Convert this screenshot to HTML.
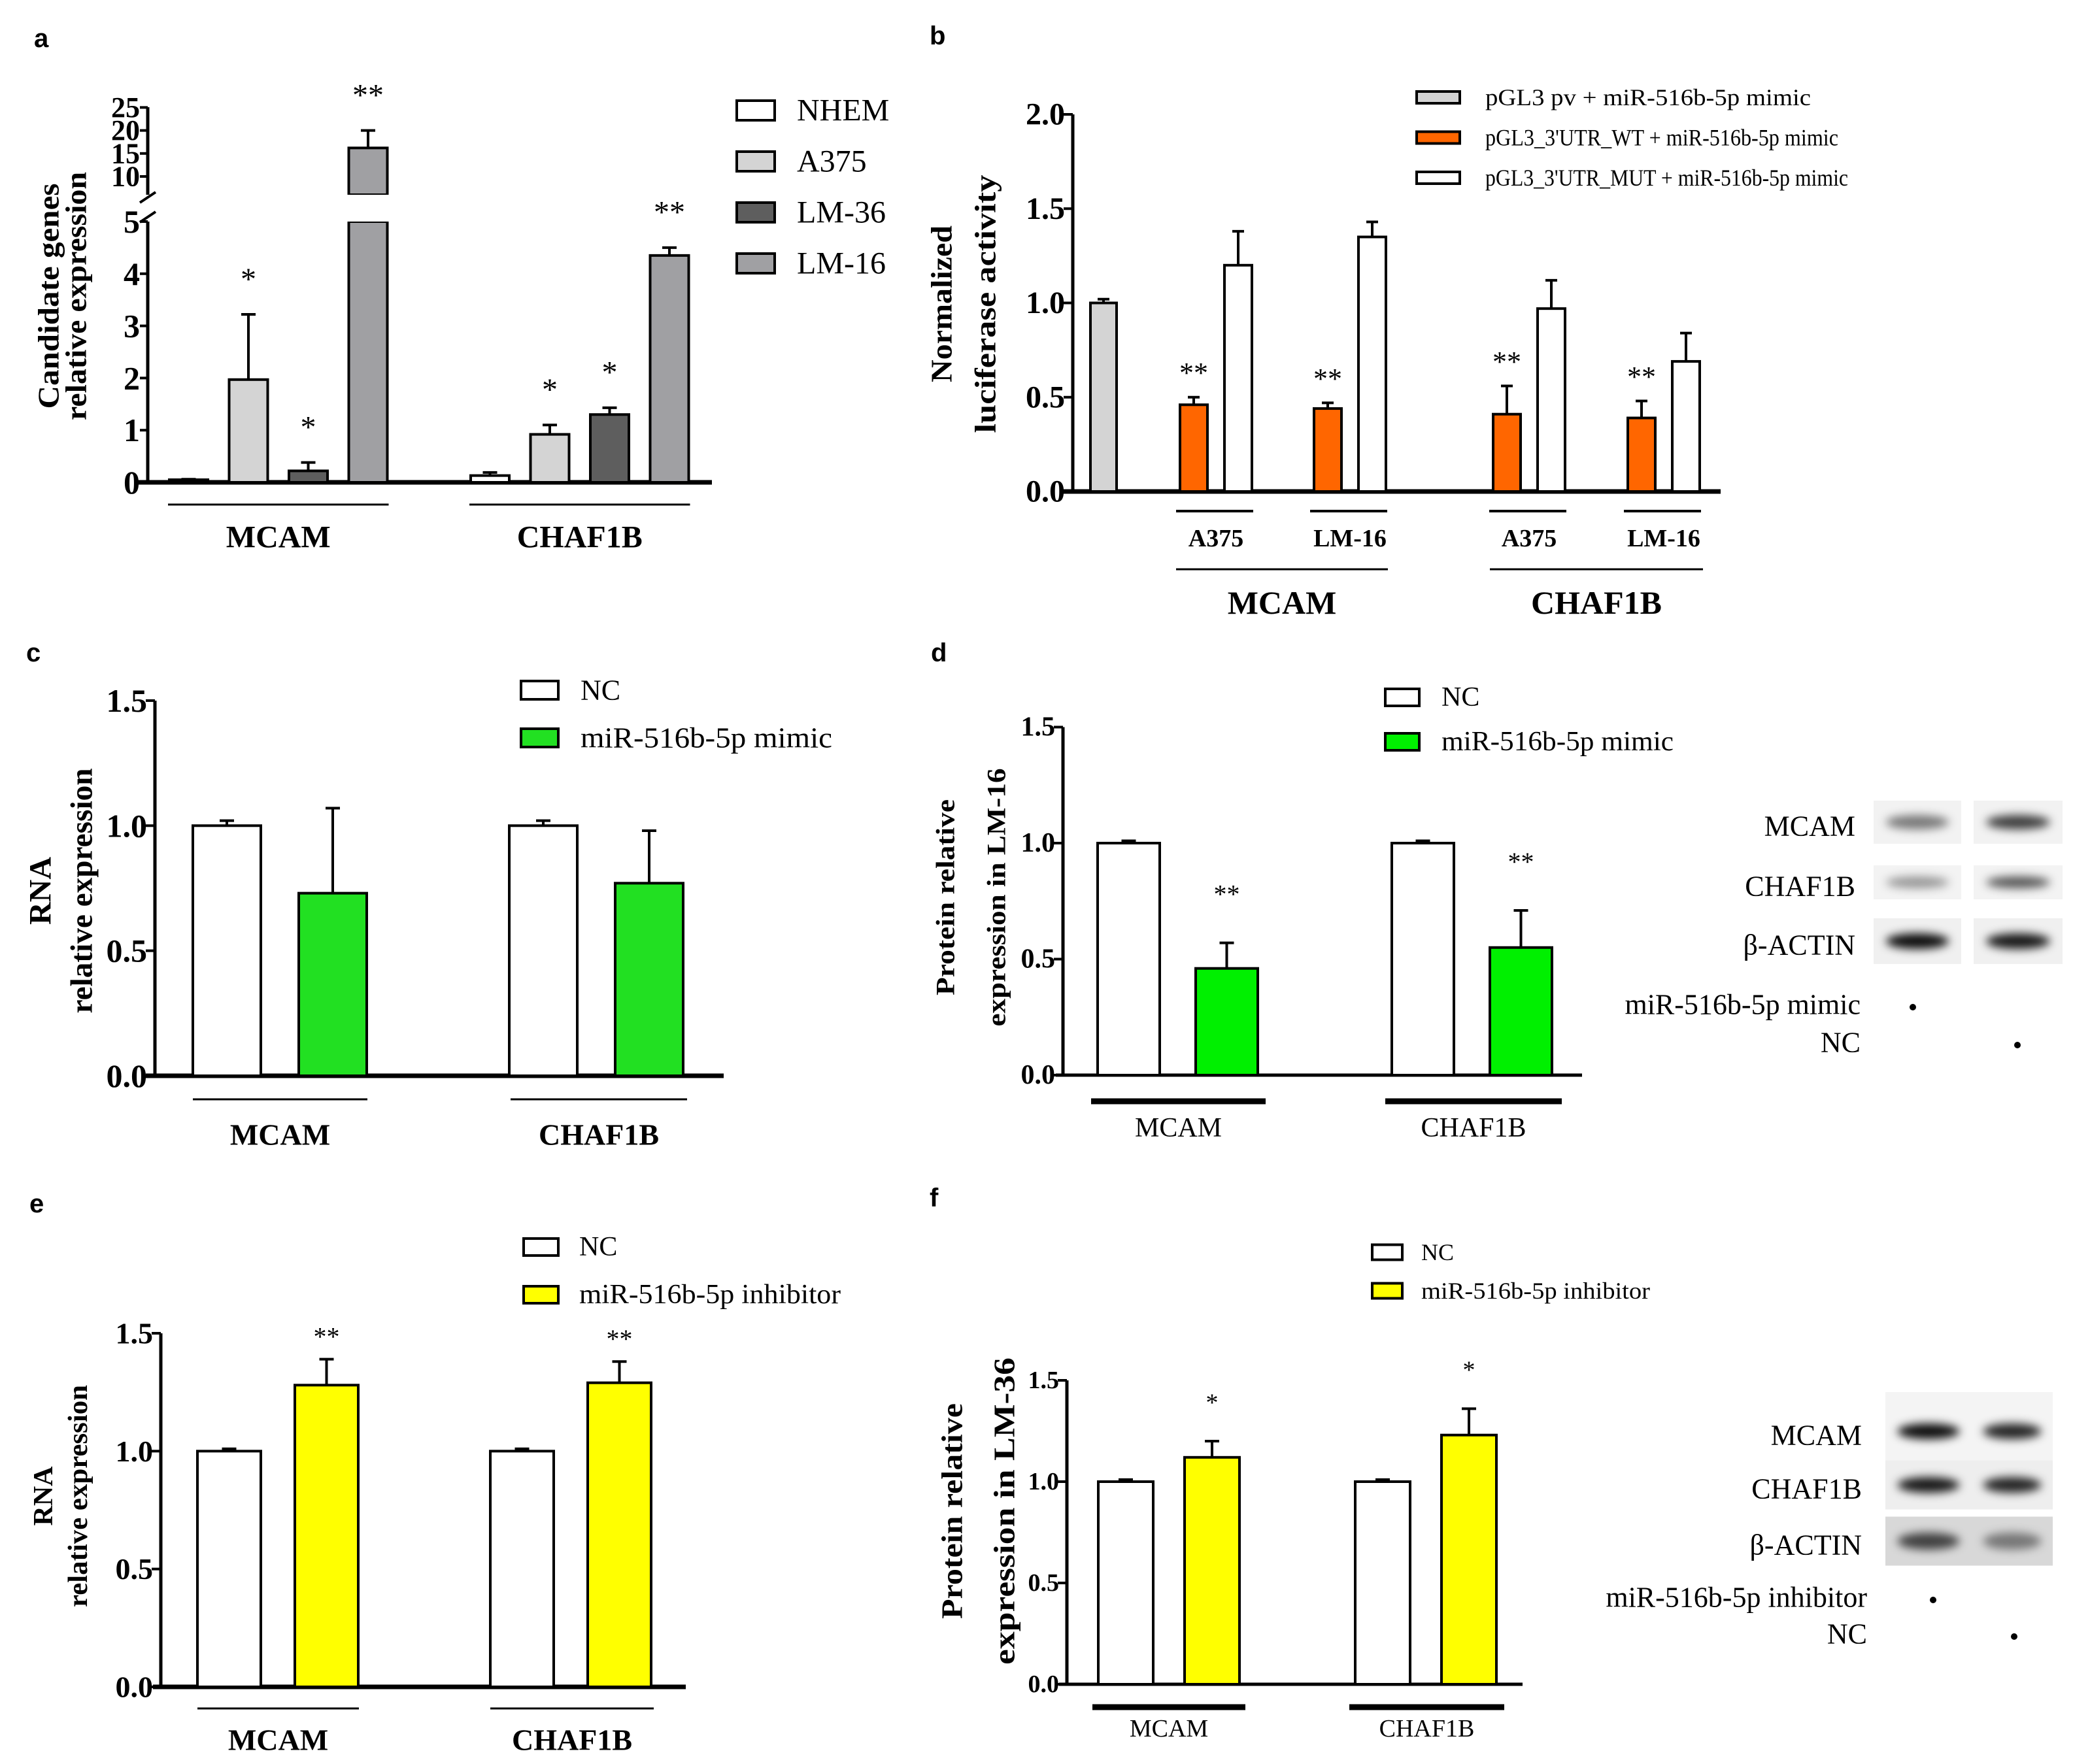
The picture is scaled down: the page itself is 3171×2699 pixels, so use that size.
<!DOCTYPE html>
<html><head><meta charset="utf-8"><style>
html,body{margin:0;padding:0;background:#fff}
svg{display:block}
text{font-family:"Liberation Serif",serif}
.b{font-weight:bold}
.sans{font-family:"Liberation Sans",sans-serif;font-weight:bold}
</style></head><body>
<svg id="fig" xmlns="http://www.w3.org/2000/svg" width="3171" height="2699" viewBox="0 0 3171 2699">
<defs>
<filter id="blur" x="-30%" y="-80%" width="160%" height="260%"><feGaussianBlur stdDeviation="7"/></filter>
</defs>
</svg>
<script>
// ---------- DATA ----------
// panel a
const aGenes = ["MCAM","CHAF1B"];
const aSeries = ["NHEM","A375","LM-36","LM-16"];
const aColors = ["#ffffff","#d4d4d4","#5e5e5e","#a0a0a3"];
const aMCAM = [0.05, 1.97, 0.22, 16.2];
const aMCAMErr = [0.06, 3.22, 0.38, 20];
const aCHAF = [0.13, 0.92, 1.30, 4.35];
const aCHAFErr = [0.19, 1.10, 1.43, 4.50];
const aMCAMSig = ["", "*", "*", "**"];
const aCHAFSig = ["", "*", "*", "**"];
const aTicksLow = [0,1,2,3,4,5];
const aTicksHigh = [10,15,20,25];
// panel b
const bSeries = ["pGL3 pv + miR-516b-5p mimic","pGL3_3'UTR_WT + miR-516b-5p mimic","pGL3_3'UTR_MUT + miR-516b-5p mimic"];
const bCtrl = 1.00, bCtrlErr = 1.02;
const bCells = ["A375","LM-16","A375","LM-16"];
const bWT = [0.46, 0.44, 0.41, 0.39];
const bWTErr = [0.50, 0.47, 0.56, 0.48];
const bMUT = [1.20, 1.35, 0.97, 0.69];
const bMUTErr = [1.38, 1.43, 1.12, 0.84];
const bSig = ["**","**","**","**"];
const bTicks = [0,0.5,1.0,1.5,2.0];
const bTickLabels = ["0.0","0.5","1.0","1.5","2.0"];
// panel c
const cNC = [1.00, 1.00], cNCErr = [1.02, 1.02];
const cMim = [0.73, 0.77], cMimErr = [1.07, 0.98];
// panel d
const dNC = [1.00, 1.00], dNCErr = [1.01, 1.01];
const dMim = [0.46, 0.55], dMimErr = [0.57, 0.71];
const dSig = ["**","**"];
// panel e
const eNC = [1.00, 1.00], eNCErr = [1.01, 1.01];
const eInh = [1.28, 1.29], eInhErr = [1.39, 1.38];
const eSig = ["**","**"];
// panel f
const fNC = [1.00, 1.00], fNCErr = [1.01, 1.01];
const fInh = [1.12, 1.23], fInhErr = [1.20, 1.36];
const fSig = ["*","*"];
const lowTicks = [0,0.5,1.0,1.5];
const lowTickLabels = ["0.0","0.5","1.0","1.5"];
const genes = ["MCAM","CHAF1B"];

// ---------- HELPERS ----------
const NS="http://www.w3.org/2000/svg";
const svg=document.getElementById('fig');
function mk(tag,attrs,parent){const e=document.createElementNS(NS,tag);for(const k in attrs)e.setAttribute(k,attrs[k]);(parent||svg).appendChild(e);return e;}
function txt(s,attrs,parent){const e=mk('text',attrs,parent);e.textContent=s;return e;}
function line(x1,y1,x2,y2,w,parent){return mk('line',{x1,y1,x2,y2,stroke:'#000','stroke-width':w},parent);}
function bar(g,x,w,yv,y0,fill,name){
  const r=mk('rect',{x:x,y:yv,width:w,height:y0-yv,fill:fill,stroke:'#000','stroke-width':4},g);
  
  
  return r;
}
function err(g,cx,yTop,yErr,cap,name){
  const e=mk('path',{d:`M${cx},${yTop} V${yErr} M${cx-cap/2},${yErr} H${cx+cap/2}`,stroke:'#000','stroke-width':4,fill:'none'},g);
  
  
}
function panelLetter(s,x,y){const t=txt(s,{x,y,class:'sans','font-size':40});}
function yTitle(lines,xs,cy,size,len){
  lines.forEach((s,i)=>{const t=txt(s,{x:xs[i],y:cy,class:'b','font-size':size,'text-anchor':'middle',transform:`rotate(-90 ${xs[i]} ${cy})`,'dominant-baseline':'central'});
  if(len&&len[i]){t.setAttribute('textLength',len[i]);t.setAttribute('lengthAdjust','spacingAndGlyphs');}
  });
}
function yAxis(g,x,yTopPx,y0,ticks,labels,scale,fs,bold){
  line(x,yTopPx,x,y0+2,5,g);
  ticks.forEach((v,i)=>{const y=scale(v);line(x-14,y,x,y,4,g);
    const t=txt(labels[i],{x:x-12,y:y,'font-size':fs,'text-anchor':'end','dominant-baseline':'central',class:bold?'b':''},g);
    });
}
function legendEntry(x,y,w,h,fill,label,fs,tx,len){
  const g=mk('g',{});
  
  
  mk('rect',{x:x,y:y-h/2,width:w,height:h,fill:fill,stroke:'#000','stroke-width':4},g);
  const t=txt(label,{x:tx,y:y,'font-size':fs,'dominant-baseline':'central'},g);
  if(len){t.setAttribute('textLength',len);t.setAttribute('lengthAdjust','spacingAndGlyphs');}
}
function sig(s,x,y,fs,g){const t=txt(s,{x:x,y:y+fs*0.35,'font-size':fs,'text-anchor':'middle'},g);}
function groupLabel(s,x,y,fs,bold,g){const t=txt(s,{x:x,y:y,'font-size':fs,'text-anchor':'middle','dominant-baseline':'central',class:bold?'b':''},g);}

// ---------- PANEL A ----------
(function(){
  const g=mk('g',{});
  panelLetter('a',52,72);
  const ax=226, y0=738, ppu=79.8;
  const yLow=v=>y0-v*ppu;
  const yHigh=v=>270-(v-10)*7.04;
  const yv=v=>v<=5?yLow(v):yHigh(v);
  line(ax,164,ax,298,5,g); line(ax,339,ax,y0+2,5,g);
  mk('path',{d:`M${ax-12},${310} L${ax+12},${294} M${ax-12},${340} L${ax+12},${324}`,stroke:'#000','stroke-width':4,fill:'none'},g);
  aTicksLow.forEach(v=>{const y=yLow(v);line(ax-12,y,ax,y,4,g);const t=txt(String(v),{x:ax-12,y:y,'font-size':50,'text-anchor':'end','dominant-baseline':'central',class:'b'},g);});
  aTicksHigh.forEach(v=>{const y=yHigh(v);line(ax-12,y,ax,y,4,g);const t=txt(String(v),{x:ax-12,y:y,'font-size':44,'text-anchor':'end','dominant-baseline':'central',class:'b'},g);});
  line(210,y0,1089,y0,7,g);
  const vals=[aMCAM,aCHAF], errs=[aMCAMErr,aCHAFErr], sigs=[aMCAMSig,aCHAFSig];
  const start=[259,720], step=91.5, bw=59;
  vals.forEach((arr,gi)=>{
    arr.forEach((v,si)=>{
      const x=start[gi]+si*step, cx=x+bw/2;
      if(v>5){
        bar(g,x,bw,yHigh(v),298,aColors[si],'bar-'+aGenes[gi]+'-'+aSeries[si]+'-upper');
        bar(g,x,bw,yLow(5),y0,aColors[si],'bar-'+aGenes[gi]+'-'+aSeries[si]);
        mk('rect',{x:x-3,y:298,width:bw+6,height:41,fill:'#fff'},g);
      } else bar(g,x,bw,yLow(v),y0,aColors[si],'bar-'+aGenes[gi]+'-'+aSeries[si]);
      err(g,cx,yv(v),yv(errs[gi][si]),22,'error-bar');
      if(sigs[gi][si]){const top=yv(errs[gi][si]);sig(sigs[gi][si],cx,top-55,48,g);}
    });
    line(start[gi]-2,772,start[gi]+3*step+bw+2,772,3,g);
    groupLabel(aGenes[gi],start[gi]+(3*step+bw)/2,822,48,true,g);
  });
  yTitle(['Candidate genes','relative expression'],[74,116],453,46,[345,380]);
  aSeries.forEach((s,i)=>legendEntry(1127,169+i*78,58,30,aColors[i],s,48,1219));
})();

// ---------- PANEL B ----------
(function(){
  const g=mk('g',{});
  panelLetter('b',1422,68);
  const ax=1641,y0=752,ppu=288.5,sc=v=>y0-v*ppu;
  yAxis(g,ax,sc(2.0),y0,bTicks,bTickLabels,sc,48,true);
  line(1626,y0,2632,y0,7,g);
  bar(g,1668,40,sc(bCtrl),y0,'#d4d4d4','bar-pgl3-pv');
  err(g,1688,sc(bCtrl),sc(bCtrlErr),18,'error-bar');
  const pairStart=[1805,2010,2284,2490], bw=42, off=68;
  bWT.forEach((v,i)=>{
    const x=pairStart[i];
    bar(g,x,bw,sc(v),y0,'#ff6600','bar-wt-'+i);
    err(g,x+bw/2,sc(v),sc(bWTErr[i]),18,'error-bar');
    sig(bSig[i],x+bw/2,sc(bWTErr[i])-38,44,g);
    bar(g,x+off,bw,sc(bMUT[i]),y0,'#ffffff','bar-mut-'+i);
    err(g,x+off+bw/2,sc(bMUT[i]),sc(bMUTErr[i]),18,'error-bar');
    line(x-6,782,x+off+bw+2,782,4,g);
    groupLabel(bCells[i],x+(off+bw)/2,824,38,true,g);
  });
  [[1799,2123],[2279,2605]].forEach((r,i)=>{line(r[0],871,r[1],871,3,g);groupLabel(genes[i],(r[0]+r[1])/2,922,50,true,g);});
  yTitle(['Normalized','luciferase activity'],[1440,1507],465,46,[240,395]);
  const bc=['#d4d4d4','#ff6600','#ffffff'], bl=[498,540,555];
  bSeries.forEach((s,i)=>legendEntry(2167,149+i*61.5,66,18,bc[i],s,36,2272,bl[i]));
})();

function twoBar(o){
  const g=mk('g',{});
  const sc=v=>o.y0-v*o.ppu;
  yAxis(g,o.ax,sc(1.5),o.y0,lowTicks,lowTickLabels,sc,o.tfs,true);
  line(o.xs,o.y0,o.xe,o.y0,o.axw,g);
  for(let i=0;i<2;i++){
    const x1=o.start+i*o.goff, x2=x1+o.step;
    bar(g,x1,o.bw,sc(o.nc[i]),o.y0,'#ffffff','bar-'+genes[i]+'-nc');
    err(g,x1+o.bw/2,sc(o.nc[i]),sc(o.ncErr[i]),22,'error-bar');
    bar(g,x2,o.bw,sc(o.tr[i]),o.y0,o.color,'bar-'+genes[i]+'-treatment');
    err(g,x2+o.bw/2,sc(o.tr[i]),sc(o.trErr[i]),22,'error-bar');
    if(o.sig) sig(o.sig[i],x2+o.bw/2,sc(o.trErr[i])-o.sigOff,o.sfs,g);
    line(o.ul[i][0],o.uly,o.ul[i][1],o.uly,o.ulw,g);
    groupLabel(genes[i],(o.ul[i][0]+o.ul[i][1])/2,o.ly,o.lfs,o.lbold,g);
  }
  return g;
}

// ---------- PANEL C ----------
panelLetter('c',40,1012);
twoBar({name:'panel-c-chart',ax:237,y0:1646,ppu:382.7,tfs:50,xs:223,xe:1107,axw:7,start:295,goff:484,step:162,bw:104,
  nc:cNC,ncErr:cNCErr,tr:cMim,trErr:cMimErr,color:'#22e022',ul:[[295,562],[781,1051]],uly:1682,ulw:3,ly:1736,lfs:46,lbold:true});
yTitle(['RNA','relative expression'],[62,125],1363,48,[null,375]);
legendEntry(797,1056,57,28,'#ffffff','NC',44,888);
legendEntry(797,1129,57,28,'#22e022','miR-516b-5p mimic',44,888,385);

// ---------- PANEL D ----------
panelLetter('d',1424,1012);
twoBar({name:'panel-d-chart',ax:1626,y0:1645,ppu:355,tfs:42,xs:1615,xe:2420,axw:5,start:1679,goff:450,step:150,bw:95,
  nc:dNC,ncErr:dNCErr,tr:dMim,trErr:dMimErr,color:'#00f000',sig:dSig,sigOff:75,sfs:40,ul:[[1669,1936],[2119,2389]],uly:1685,ulw:9,ly:1726,lfs:42,lbold:false});
yTitle(['Protein relative','expression in LM-16'],[1446,1524],1373,40,[300,395]);
legendEntry(2119,1067,52,26,'#ffffff','NC',42,2205);
legendEntry(2119,1135,52,26,'#00f000','miR-516b-5p mimic',42,2205,355);

// ---------- PANEL E ----------
panelLetter('e',45,1855);
twoBar({name:'panel-e-chart',ax:246,y0:2581,ppu:360.7,tfs:46,xs:234,xe:1049,axw:7,start:302,goff:448,step:149,bw:97,
  nc:eNC,ncErr:eNCErr,tr:eInh,trErr:eInhErr,color:'#ffff00',sig:eSig,sigOff:35,sfs:40,ul:[[302,549],[750,1000]],uly:2614,ulw:3,ly:2662,lfs:46,lbold:true});
yTitle(['RNA','relative expression'],[67,120],2289,42,[null,340]);
legendEntry(801,1908,53,26,'#ffffff','NC',42,886);
legendEntry(801,1981,53,26,'#ffff00','miR-516b-5p inhibitor',42,886,400);

// ---------- PANEL F ----------
panelLetter('f',1422,1846);
twoBar({name:'panel-f-chart',ax:1632,y0:2577,ppu:310,tfs:38,xs:1620,xe:2329,axw:5,start:1680,goff:393,step:132,bw:84,
  nc:fNC,ncErr:fNCErr,tr:fInh,trErr:fInhErr,color:'#ffff00',sig:fSig,sigOff:60,sfs:38,ul:[[1671,1905],[2064,2301]],uly:2612,ulw:9,ly:2645,lfs:38,lbold:false});
yTitle(['Protein relative','expression in LM-36'],[1456,1536],2312,46,[330,470]);
legendEntry(2099,1916,46,23,'#ffffff','NC',36,2174);
legendEntry(2099,1975,46,23,'#ffff00','miR-516b-5p inhibitor',36,2174,350);

// ---------- BLOTS ----------
function blot(name,lanes,rows,labels,labelRight,treat,treatY,dotX,fs){
  const g=mk('g',{});
  rows.forEach((r,ri)=>{
    lanes.forEach((l,li)=>{
      mk('rect',{x:l[0],y:r.y-r.h/2,width:l[1]-l[0],height:r.h,fill:r.bg},g);
      const b=mk('ellipse',{cx:(l[0]+l[1])/2,cy:r.y,rx:(l[1]-l[0])*0.36,ry:r.bh,fill:'#000','fill-opacity':r.int[li],filter:'url(#blur)'},g);
      
      
    });
    const t=txt(labels[ri],{x:labelRight,y:r.y+6,'font-size':fs,'text-anchor':'end','dominant-baseline':'central'},g);
    
  });
  treat.forEach((s,i)=>{
    const t=txt(s,{x:labelRight+8,y:treatY[i],'font-size':fs,'text-anchor':'end','dominant-baseline':'central'},g);
    
    mk('circle',{cx:dotX[i],cy:treatY[i]+4,r:5,fill:'#000'},g);
  });
}
blot('western-blot-d',[[2866,3000],[3019,3155]],
  [{y:1258,h:66,bh:11,bg:'#f2f2f2',int:[0.5,0.75]},{y:1350,h:52,bh:9,bg:'#f3f3f3',int:[0.38,0.65]},{y:1440,h:70,bh:12,bg:'#f0f0f0',int:[0.95,0.9]}],
  ['MCAM','CHAF1B','β-ACTIN'],2838,['miR-516b-5p mimic','NC'],[1537,1595],[2926,3086],44);
blot('western-blot-f',[[2884,3016],[3016,3140]],
  [{y:2190,h:120,bh:12,bg:'#f4f4f4',int:[0.95,0.85]},{y:2272,h:75,bh:12,bg:'#eeeeee',int:[0.9,0.85]},{y:2358,h:75,bh:13,bg:'#d8d8d8',int:[0.7,0.45]}],
  ['MCAM','CHAF1B','β-ACTIN'],2848,['miR-516b-5p inhibitor','NC'],[2444,2500],[2957,3081],44);
</script>
</body></html>
